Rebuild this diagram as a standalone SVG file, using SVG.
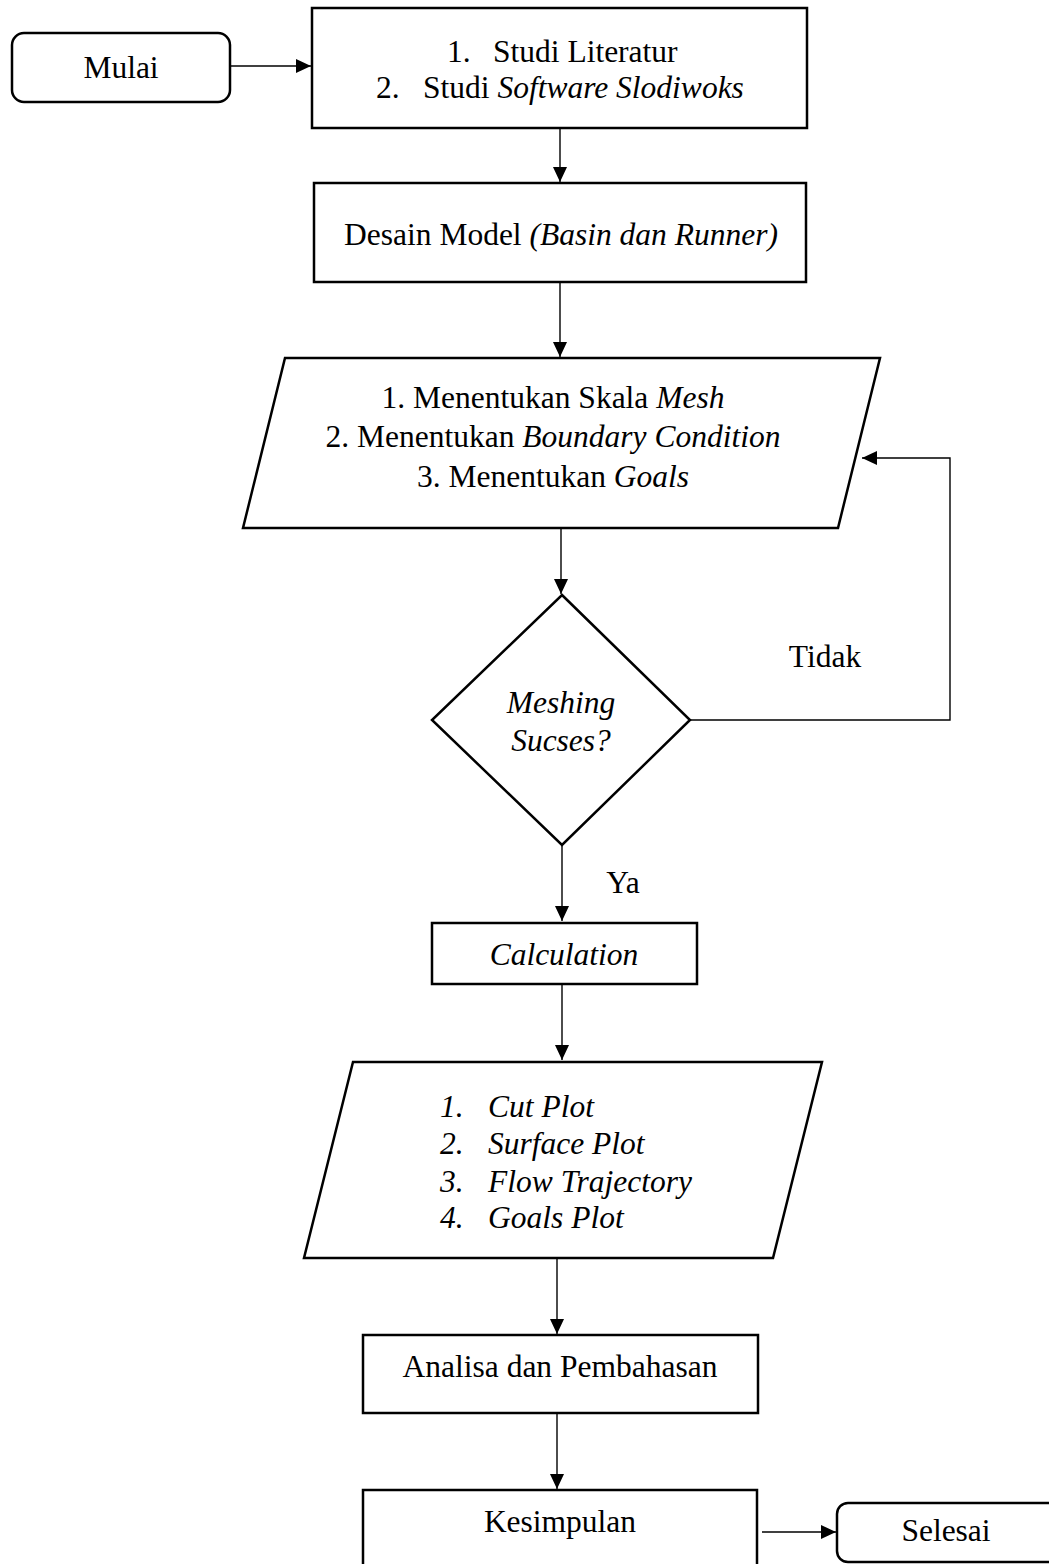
<svg xmlns="http://www.w3.org/2000/svg" width="1049" height="1564" viewBox="0 0 1049 1564">
<defs>
<marker id="ah" markerUnits="userSpaceOnUse" markerWidth="16" markerHeight="14" refX="15" refY="7" orient="auto">
<path d="M0,0 L15,7 L0,14 z" fill="#000"/>
</marker>
<style>
.n{fill:#fff;stroke:#000;stroke-width:2.5}
.c{fill:none;stroke:#000;stroke-width:1.4}
text{font-family:"Liberation Serif","Times New Roman",serif;font-size:31.5px;fill:#000}
.m{text-anchor:middle}
.i{font-style:italic}
</style>
</defs>
<rect width="1049" height="1564" fill="#fff"/>
<g id="connectors">
<line class="c" x1="231" y1="66" x2="311" y2="66" marker-end="url(#ah)"/>
<line class="c" x1="560" y1="128" x2="560" y2="182" marker-end="url(#ah)"/>
<line class="c" x1="560" y1="282" x2="560" y2="357" marker-end="url(#ah)"/>
<line class="c" x1="561" y1="528" x2="561" y2="594" marker-end="url(#ah)"/>
<polyline class="c" points="690,720 950,720 950,458 862,458" marker-end="url(#ah)"/>
<line class="c" x1="562" y1="845" x2="562" y2="921" marker-end="url(#ah)"/>
<line class="c" x1="562" y1="984" x2="562" y2="1060" marker-end="url(#ah)"/>
<line class="c" x1="557" y1="1258" x2="557" y2="1334" marker-end="url(#ah)"/>
<line class="c" x1="557" y1="1413" x2="557" y2="1489" marker-end="url(#ah)"/>
<line class="c" x1="762" y1="1532" x2="836" y2="1532" marker-end="url(#ah)"/>
<text x="825" y="667" class="m">Tidak</text>
<text x="623" y="893" class="m">Ya</text>
</g>
<g id="mulai">
<rect class="n" x="12" y="33" width="218" height="69" rx="12"/>
<text x="121" y="78" class="m">Mulai</text>
</g>
<g id="studi">
<rect class="n" x="312" y="8" width="495" height="120"/>
<text y="62"><tspan x="447">1.</tspan><tspan x="493">Studi Literatur</tspan></text>
<text y="98"><tspan x="376">2.</tspan><tspan x="423">Studi </tspan><tspan class="i">Software Slodiwoks</tspan></text>
</g>
<g id="desain">
<rect class="n" x="314" y="183" width="492" height="99"/>
<text x="561" y="245" class="m">Desain Model <tspan class="i">(Basin dan Runner)</tspan></text>
</g>
<g id="input1">
<polygon class="n" points="285,358 880,358 838,528 243,528"/>
<text x="553" y="408" class="m">1.  Menentukan Skala <tspan class="i">Mesh</tspan></text>
<text x="553" y="447" class="m">2.  Menentukan <tspan class="i">Boundary Condition</tspan></text>
<text x="553" y="487" class="m">3.  Menentukan <tspan class="i">Goals</tspan></text>
</g>
<g id="decision">
<polygon class="n" points="562,595 690,720 562,845 432,720"/>
<text x="561" y="713" class="m i">Meshing</text>
<text x="561" y="751" class="m i">Sucses?</text>
</g>
<g id="calculation">
<rect class="n" x="432" y="923" width="265" height="61"/>
<text x="564" y="965" class="m i">Calculation</text>
</g>
<g id="output">
<polygon class="n" points="353,1062 822,1062 773,1258 304,1258"/>
<text class="i" y="1117"><tspan x="440">1.</tspan><tspan x="488">Cut Plot</tspan></text>
<text class="i" y="1154"><tspan x="440">2.</tspan><tspan x="488">Surface Plot</tspan></text>
<text class="i" y="1192"><tspan x="440">3.</tspan><tspan x="488">Flow Trajectory</tspan></text>
<text class="i" y="1228"><tspan x="440">4.</tspan><tspan x="488">Goals Plot</tspan></text>
</g>
<g id="analisa">
<rect class="n" x="363" y="1335" width="395" height="78"/>
<text x="560" y="1377" class="m">Analisa dan Pembahasan</text>
</g>
<g id="kesimpulan">
<rect class="n" x="363" y="1490" width="394" height="90"/>
<text x="560" y="1532" class="m">Kesimpulan</text>
</g>
<g id="selesai">
<rect class="n" x="837" y="1503" width="225" height="59" rx="11"/>
<text x="946" y="1541" class="m">Selesai</text>
</g>
</svg>
